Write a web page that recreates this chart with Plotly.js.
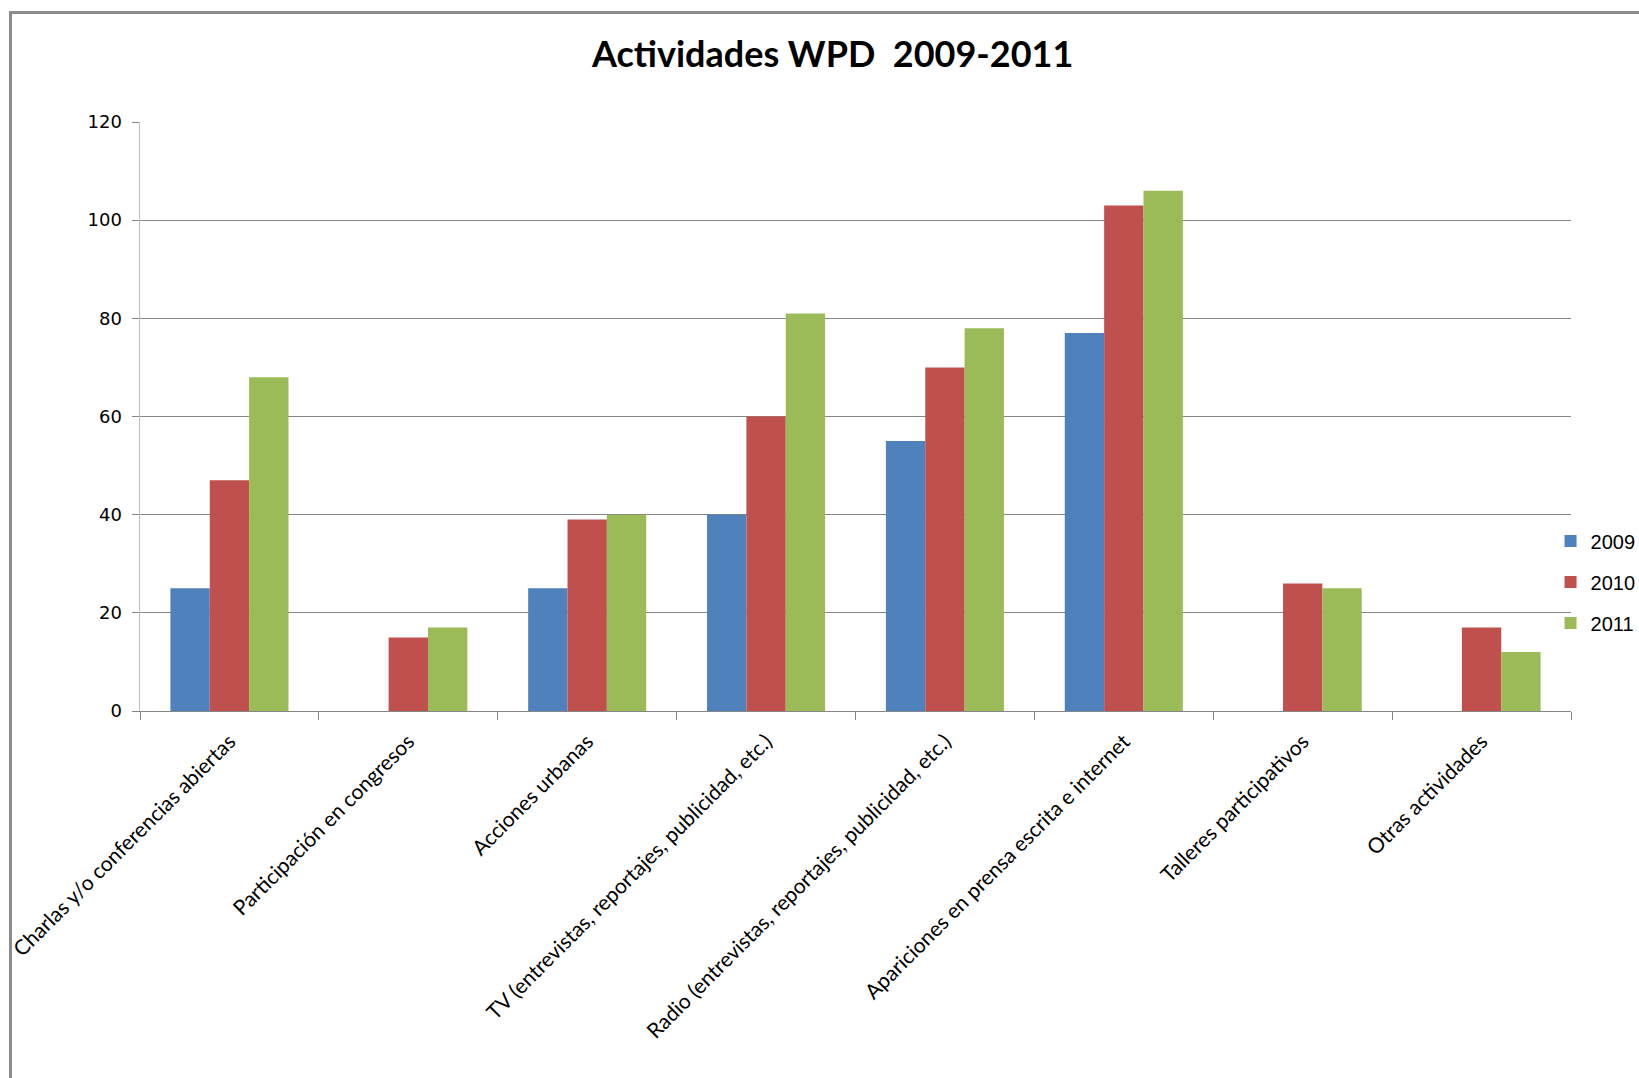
<!DOCTYPE html>
<html>
<head>
<meta charset="utf-8">
<script src="https://cdn.plot.ly/plotly-3.0.1.min.js"></script>
<style>
  html, body { margin: 0; padding: 0; background: #ffffff; }
  #frame { position: absolute; left: 9px; top: 11px; width: 1700px; height: 1200px;
           border-left: 3px solid #8c8c8c; border-top: 3px solid #8c8c8c; }
  #chart { position: absolute; left: 0; top: 0; width: 1639px; height: 1078px; }
</style>
</head>
<body>
<div id="frame"></div>
<div id="chart"></div>
<script>
const categories = [
  "Charlas y/o conferencias abiertas",
  "Participación en congresos",
  "Acciones urbanas",
  "TV (entrevistas, reportajes, publicidad, etc.)",
  "Radio (entrevistas, reportajes, publicidad, etc.)",
  "Apariciones en prensa escrita e internet",
  "Talleres participativos",
  "Otras actividades"
];
const values2009 = [25, 0, 25, 40, 55, 77, 0, 0];
const values2010 = [47, 15, 39, 60, 70, 103, 26, 17];
const values2011 = [68, 17, 40, 81, 78, 106, 25, 12];
const seriesNames = ["2009", "2010", "2011"];
const seriesColors = ["#4F81BD", "#C0504D", "#9BBB59"];
const yTicks = [0, 20, 40, 60, 80, 100, 120];

const allValues = [values2009, values2010, values2011];
const traces = allValues.map((vals, i) => ({
  type: "bar",
  name: seriesNames[i],
  x: categories,
  y: vals,
  legendgroup: "g" + i,
  marker: { color: seriesColors[i], line: { width: 0 } },
  hoverinfo: "x+y+name"
}));

const layout = {
  width: 1639,
  height: 1078,
  paper_bgcolor: "rgba(0,0,0,0)",
  plot_bgcolor: "rgba(0,0,0,0)",
  margin: { l: 140, r: 68, t: 122, b: 367, autoexpand: false },
  title: {
    text: "<b>Actividades WPD  2009-2011</b>",
    x: 0.508, xanchor: "center",
    y: 0.950, yanchor: "middle",
    font: { family: "Lato, sans-serif", size: 36, color: "#000000" }
  },
  barmode: "group",
  bargap: 0.34,
  bargroupgap: 0,
  showlegend: true,
  legend: {
    x: 1.0486, xanchor: "right",
    y: 0.219, yanchor: "middle",
    tracegroupgap: 12,
    font: { family: "Liberation Sans, Arial, sans-serif", size: 20, color: "#000000" },
    bgcolor: "rgba(0,0,0,0)"
  },
  xaxis: {
    type: "category",
    tickangle: -45,
    showline: true,
    linecolor: "#868686",
    linewidth: 1,
    ticks: "outside",
    tickson: "boundaries",
    ticklen: 8,
    tickcolor: "#868686",
    showgrid: false,
    ticklabelstandoff: 9,
    tickfont: { family: "Lato, sans-serif", size: 21, color: "#000000" }
  },
  yaxis: {
    range: [0, 120],
    tickvals: yTicks,
    ticktext: yTicks.map(String),
    showline: true,
    linecolor: "#BFBFBF",
    linewidth: 1.5,
    ticks: "outside",
    ticklen: 7,
    tickcolor: "#868686",
    showgrid: true,
    gridcolor: "#868686",
    gridwidth: 1,
    zeroline: false,
    ticklabelstandoff: 6,
    tickfont: { family: "DejaVu Sans, sans-serif", size: 18, color: "#000000" }
  }
};

Plotly.newPlot("chart", traces, layout, { displayModeBar: false, staticPlot: true });
</script>
</body>
</html>
